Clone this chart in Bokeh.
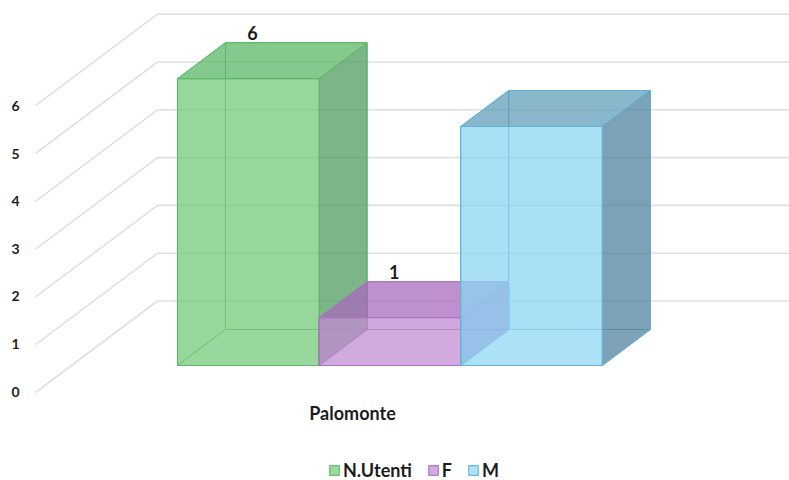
from bokeh.plotting import figure
from bokeh.models import Range1d, LinearAxis, FixedTicker, Legend, LegendItem
from bokeh.core.properties import value
from bokeh.embed import file_html
from bokeh.resources import INLINE

# ---- data ----
category = ["Palomonte"]
series = ["N.Utenti", "F", "M"]
values = [6, 1, 5]
data_labels = ["6", "1", None]
ticks = [0, 1, 2, 3, 4, 5, 6]

# ---- styling ----
front_cols = ["#74cb78", "#c18ad2", "#8dd6f3"]
top_cols = ["#5cb567", "#a86abd", "#5f9cb8"]
side_cols = ["#4f9a5f", "#9a55b0", "#4d7f9d"]
edge_cols = ["#5cb86a", "#a874bb", "#5fb0d8"]
FONT = "Lato"
TXT = "#1c1c1c"

# ---- layout: 1 x unit = a bar's width, 1 y unit = one value step (pixels per unit) ----
PX_X, PX_Y = 141.6, 47.8
REF_L, REF_R, REF_T, REF_B = 27, 789, 0, 480  # frame edges in picture pixels
X0, Y0 = 177, 389                             # picture pixel of x=0, v=0
LABEL_Y0, LABEL_STEP = 391, 47.55             # where the value labels sit
BAR_BASE = 24 / PX_Y                          # front base of bars above label zero
BAR_DX, BAR_DY = 48 / PX_X, 36 / PX_Y         # bar depth
GRID_X0 = (35 - X0) / PX_X
GRID_Y0 = -3 / PX_Y
GRID_DX, GRID_DY = 122 / PX_X, 91.5 / PX_Y    # floor depth

p = figure(width=789, height=480, output_backend="svg", toolbar_location=None,
           x_range=Range1d((REF_L - X0) / PX_X, (REF_R - X0) / PX_X),
           y_range=Range1d((Y0 - REF_B) / PX_Y, (Y0 - REF_T) / PX_Y),
           min_border_left=27, min_border_right=0, min_border_top=0, min_border_bottom=0,
           x_axis_location=None, y_axis_location=None)
p.outline_line_color = None
p.grid.visible = False

p.extra_y_ranges["labels"] = Range1d((LABEL_Y0 - REF_B) / LABEL_STEP, (LABEL_Y0 - REF_T) / LABEL_STEP)
yaxis = LinearAxis(y_range_name="labels", ticker=FixedTicker(ticks=ticks), axis_line_color=None,
                   major_tick_line_color=None, minor_tick_line_color=None,
                   major_label_standoff=2, major_label_text_font=FONT,
                   major_label_text_font_size="14px", major_label_text_font_style="bold",
                   major_label_text_color=TXT)
p.add_layout(yaxis, "left")

# wall grid
for t in ticks:
    p.line([GRID_X0, GRID_X0 + GRID_DX, (REF_R - X0) / PX_X],
           [GRID_Y0 + t, GRID_Y0 + GRID_DY + t, GRID_Y0 + GRID_DY + t],
           line_color="#e0e0e0", line_width=1.6)


def face(pts, col, alpha, edge, ew=1.0):
    xs, ys = zip(*pts)
    return p.patch(list(xs), list(ys), fill_color=col, fill_alpha=alpha,
                   line_color=edge, line_width=ew, line_alpha=0.9)


legend_items = []
for i, (name, v) in enumerate(zip(series, values)):
    x0, x1 = i, i + 1
    b, t = BAR_BASE, BAR_BASE + v
    dx, dy = BAR_DX, BAR_DY
    fc, tc, sc, ec = front_cols[i], top_cols[i], side_cols[i], edge_cols[i]
    # back, left, bottom
    face([(x0 + dx, b + dy), (x1 + dx, b + dy), (x1 + dx, t + dy), (x0 + dx, t + dy)], fc, 0.10, ec)
    face([(x0, b), (x0 + dx, b + dy), (x0 + dx, t + dy), (x0, t)], fc, 0.12, ec)
    face([(x0, b), (x1, b), (x1 + dx, b + dy), (x0 + dx, b + dy)], fc, 0.05, ec)
    # top, right
    face([(x0, t), (x1, t), (x1 + dx, t + dy), (x0 + dx, t + dy)], tc, 0.72, ec)
    face([(x1, b), (x1 + dx, b + dy), (x1 + dx, t + dy), (x1, t)], sc, 0.72, ec)
    # front
    r = face([(x0, b), (x1, b), (x1, t), (x0, t)], fc, 0.72, ec, 1.2)
    legend_items.append(LegendItem(label=name, renderers=[r]))
    if data_labels[i]:
        p.text([x0 + 75 / PX_X], [t + dy + 10 / PX_Y], text=[data_labels[i]],
               text_font=value(FONT), text_font_style="bold", text_font_size="18px",
               text_color=TXT, text_align="center", text_baseline="middle")

# category label on the front plane
p.text([(352 - X0) / PX_X], [(Y0 - 412) / PX_Y], text=category,
       text_font=value(FONT), text_font_style="bold", text_font_size="18px",
       text_color=TXT, text_align="center", text_baseline="middle")

legend = Legend(items=legend_items, orientation="horizontal", location=(301, -1),
                margin=0, padding=0, spacing=15, glyph_width=12, glyph_height=12,
                label_standoff=3, label_width=1, background_fill_alpha=0, border_line_color=None,
                label_text_font=FONT, label_text_font_style="bold",
                label_text_font_size="18px", label_text_color=TXT)
p.add_layout(legend)

open("out.html", "w").write(file_html(p, INLINE))
